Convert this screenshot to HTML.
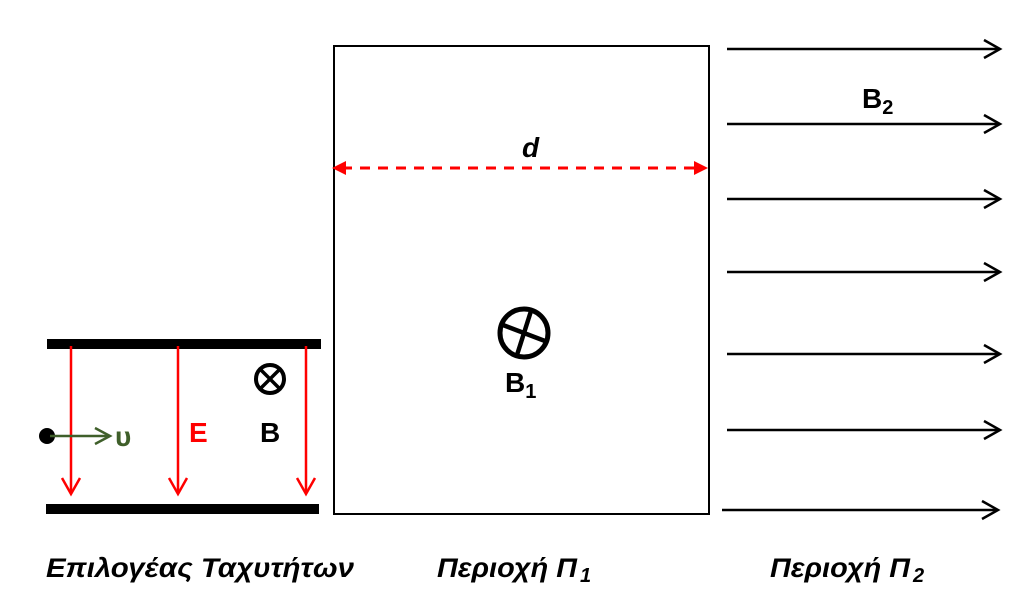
<!DOCTYPE html>
<html><head><meta charset="utf-8"><style>
html,body{margin:0;padding:0;background:#fff;}
svg{display:block;}
text{font-family:"Liberation Sans","DejaVu Sans",sans-serif;font-weight:bold;}
</style></head><body>
<svg width="1023" height="592" viewBox="0 0 1023 592" xmlns="http://www.w3.org/2000/svg">
<rect x="47" y="339" width="274" height="10" fill="#000"/>
<rect x="46" y="504" width="273" height="10" fill="#000"/>
<g stroke="#f00" stroke-width="2.5" fill="none">
<line x1="71" y1="346" x2="71" y2="494"/><polyline points="62,478 71,494 80,478"/>
<line x1="178" y1="346" x2="178" y2="494"/><polyline points="169,478 178,494 187,478"/>
<line x1="306" y1="346" x2="306" y2="494"/><polyline points="297,478 306,494 315,478"/>
</g>
<circle cx="47" cy="436" r="8" fill="#000"/>
<g stroke="#3f5f2a" stroke-width="2.5" fill="none">
<line x1="50" y1="436" x2="110" y2="436"/><polyline points="95,428 110,436 95,444"/>
</g>
<text x="115" y="446" font-size="28" fill="#3f5f2a">υ</text>
<text x="189" y="442" font-size="28" fill="#f00">E</text>
<text x="260" y="442" font-size="28" fill="#000">B</text>
<circle cx="270" cy="379" r="14" stroke="#000" stroke-width="4" fill="none"/>
<line x1="261" y1="370" x2="279" y2="388" stroke="#000" stroke-width="3.5"/>
<line x1="279" y1="370" x2="261" y2="388" stroke="#000" stroke-width="3.5"/>
<rect x="334" y="46" width="375" height="468" fill="none" stroke="#000" stroke-width="2"/>
<line x1="342" y1="168" x2="698" y2="168" stroke="#f00" stroke-width="3" stroke-dasharray="10,8"/>
<polygon points="332,168 346,161 346,175" fill="#f00"/>
<polygon points="708,168 694,161 694,175" fill="#f00"/>
<text x="522" y="157" font-size="28" font-style="italic" fill="#000">d</text>
<circle cx="524" cy="333" r="24" stroke="#000" stroke-width="5" fill="none"/>
<line x1="503" y1="325" x2="545" y2="341" stroke="#000" stroke-width="4.5"/>
<line x1="531" y1="311" x2="517" y2="355" stroke="#000" stroke-width="4.5"/>
<text x="505" y="392" font-size="28" fill="#000">B<tspan font-size="20" dy="6">1</tspan></text>
<g stroke="#000" stroke-width="2.5" fill="none">
<line x1="727" y1="49" x2="1000" y2="49"/><polyline points="984,40 1000,49 984,58"/>
<line x1="727" y1="124" x2="1000" y2="124"/><polyline points="984,115 1000,124 984,133"/>
<line x1="727" y1="199" x2="1000" y2="199"/><polyline points="984,190 1000,199 984,208"/>
<line x1="727" y1="272" x2="1000" y2="272"/><polyline points="984,263 1000,272 984,281"/>
<line x1="727" y1="354" x2="1000" y2="354"/><polyline points="984,345 1000,354 984,363"/>
<line x1="727" y1="430" x2="1000" y2="430"/><polyline points="984,421 1000,430 984,439"/>
<line x1="722" y1="510" x2="998" y2="510"/><polyline points="982,501 998,510 982,519"/>
</g>
<text x="862" y="108" font-size="28" fill="#000">B<tspan font-size="20" dy="6">2</tspan></text>
<g font-size="27" font-style="italic" fill="#000">
<text x="46" y="577" textLength="308" lengthAdjust="spacingAndGlyphs">Επιλογέας Ταχυτήτων</text>
<text x="437" y="577" textLength="140" lengthAdjust="spacingAndGlyphs">Περιοχή Π</text>
<text x="580" y="582" font-size="20">1</text>
<text x="770" y="577" textLength="140" lengthAdjust="spacingAndGlyphs">Περιοχή Π</text>
<text x="913" y="582" font-size="20">2</text>
</g>
</svg>
</body></html>
